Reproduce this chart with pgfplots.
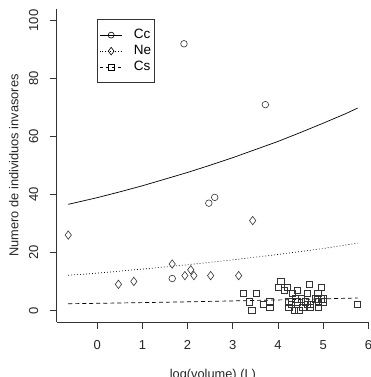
\documentclass[border=0pt]{standalone}
\usepackage{pgfplots}
\pgfplotsset{compat=1.18}
\usepackage{fontspec}
\setmainfont{Liberation Sans}

% Observed counts per species
\pgfplotstableread{
x y
1.92 92
3.72 71
2.47 37
2.60 39
1.66 11
}\cc
\pgfplotstableread{
x y
-0.64 26
0.47 9
0.81 10
1.66 16
1.94 12
2.07 14
2.14 12
2.51 12
3.13 12
3.44 31
}\ne
\pgfplotstableread{
x y
3.24 6
3.52 6
3.36 3
3.42 0
3.67 2
3.82 3
3.82 1
4.06 10
4.00 8
4.14 7
4.20 8
4.32 6
4.43 7
4.65 6
4.69 9
4.96 8
4.88 6
4.24 3
4.24 1
4.30 3
4.36 0
4.46 0
4.43 3
4.51 4
4.55 1
4.64 2
4.72 2
4.72 1
4.38 4
4.29 2
4.82 4
4.87 4
4.96 4
5.00 4
4.90 3
4.99 3
4.90 1
4.60 3
5.76 2
}\cs
% Fitted curves
\pgfplotstableread{
x y
-0.64 36.6
0 38.9
0.5 40.9
1 43.0
1.5 45.3
2 47.6
2.5 50.1
3 52.7
3.5 55.5
4 58.3
4.5 61.4
5 64.6
5.5 67.9
5.76 69.8
}\ccfit
\pgfplotstableread{
x y
-0.64 12.1
0 12.87
1 14.25
2 15.76
3 17.44
4 19.30
5 21.35
5.76 23.2
}\nefit
\pgfplotstableread{
x y
-0.64 2.3
0 2.44
1 2.69
2 2.96
3 3.27
4 3.61
5 3.98
5.76 4.29
}\csfit

\begin{document}
\begin{tikzpicture}
\path[use as bounding box] (0,0) rectangle (370pt,377pt);
\clip (0,0) rectangle (370pt,377pt);
\begin{axis}[
  at={(56.5pt,55pt)}, anchor=south west,
  scale only axis, width=312.8pt, height=313pt,
  xmin=-0.9, xmax=6.02, ymin=-4, ymax=104,
  axis x line*=bottom, axis y line*=left,
  axis line style={-, line width=0.6pt, black!80},
  xtick={0,1,2,3,4,5,6}, ytick={0,20,40,60,80,100},
  tick align=outside, major tick length=7pt,
  tick style={line width=0.6pt, black!80},
  /pgf/number format/assume math mode=true,
  ticklabel style={font=\fontsize{13}{15}\selectfont, color=black!85},
  xticklabel style={anchor=north, inner sep=0pt},
  yticklabel style={rotate=90, anchor=south, inner sep=0pt},
  xticklabel shift=11pt,
  yticklabel shift=11pt,
  xlabel={log(volume) (L)},
  ylabel={Numero de individuos invasores},
  label style={font=\fontsize{12.8}{15}\selectfont, color=black!85},
  xlabel style={at={([yshift=-56.5pt]axis description cs:0.5,0)}, anchor=base},
  ylabel style={at={([xshift=-38.2pt]axis description cs:0,0.5)}, anchor=base, rotate=0},
  legend style={at={(rel axis cs:0.1304,0.967)}, anchor=north west,
    draw=black!80, line width=0.6pt, fill=white,
    font=\fontsize{13.5}{15}\selectfont,
    inner xsep=2pt, inner ysep=8pt, row sep=1pt, column sep=10pt,
    nodes={inner sep=1pt, text height=10pt, text depth=3pt}},
  legend cell align=left,
  legend image code/.code={\draw[mark repeat=2,mark phase=2,#1]
     plot coordinates {(0pt,0pt) (11.3pt,0pt) (22.6pt,0pt)};},
]
\addlegendimage{black, line width=0.6pt, mark=o, mark size=3pt, mark options={solid}}
\addlegendentry{Cc}
\addlegendimage{black, line width=0.6pt, dotted, mark=diamond, mark size=3.8pt, mark options={solid}}
\addlegendentry{Ne}
\addlegendimage{black, line width=0.6pt, dash pattern=on 3pt off 3pt, mark=square, mark size=2.8pt, mark options={solid}}
\addlegendentry{Cs}

\addplot[forget plot, only marks, mark=o, mark size=3.3pt, line width=0.6pt, black!80] table {\cc};
\addplot[forget plot, only marks, mark=diamond, mark size=4.2pt, line width=0.6pt, black!80] table {\ne};
\addplot[forget plot, only marks, mark=square, mark size=3.1pt, line width=0.6pt, black!80] table {\cs};

\addplot[forget plot, no marks, line width=0.7pt, black] table {\ccfit};
\addplot[forget plot, no marks, line width=0.7pt, black, dash pattern=on 0.8pt off 2.2pt] table {\nefit};
\addplot[forget plot, no marks, line width=0.7pt, black, dash pattern=on 4pt off 3pt] table {\csfit};
\end{axis}
\end{tikzpicture}
\end{document}
